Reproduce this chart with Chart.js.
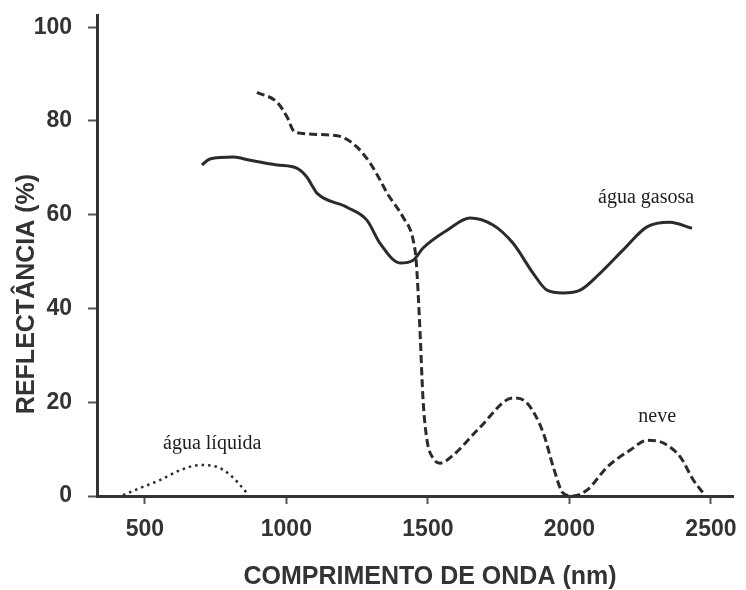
<!DOCTYPE html>
<html>
<head>
<meta charset="utf-8">
<title>Reflectância</title>
<script src="https://cdn.jsdelivr.net/npm/chart.js@4.4.1/dist/chart.umd.min.js"></script>
<style>
  html, body { margin: 0; padding: 0; background: #fff; }
  #wrap { width: 746px; height: 590px; }
</style>
</head>
<body>
<div id="wrap"><canvas id="reflectance-chart" width="746" height="590"></canvas></div>
<script>
// values: wavelength (nm) and reflectance (%)
const liquidNm  = [423, 483, 554, 625, 695, 755, 801, 837, 861];
const liquidPct = [0.2, 1.7, 3.4, 5.5, 6.6, 6.2, 4.5, 2.3, 0.6];

const gasNm  = [702, 730, 812, 872, 967, 1038, 1073, 1094, 1108, 1214, 1285, 1331, 1402, 1448, 1483,
                1568, 1649, 1730, 1801, 1872, 1921, 1978, 2038, 2108, 2190, 2274, 2355, 2433];
const gasPct = [70.6, 71.9, 72.3, 71.6, 70.6, 69.9, 68.0, 65.9, 64.6, 61.6, 58.8, 53.9, 49.7, 50.3, 52.9,
                56.7, 59.3, 57.8, 53.9, 47.5, 43.9, 43.3, 43.9, 47.5, 52.5, 57.4, 58.4, 57.1];

const snowNm  = [896, 967, 1003, 1024, 1048, 1154, 1200, 1250, 1296, 1331, 1356, 1412, 1448, 1459, 1472,
                 1483, 1497, 1518, 1543, 1589, 1685, 1801, 1851, 1908, 1943, 1978, 2014, 2063, 2134,
                 2215, 2275, 2332, 2392, 2438, 2473];
const snowPct = [86.1, 84.0, 80.8, 78.0, 77.4, 77.0, 76.5, 74.4, 71.0, 67.4, 64.6, 59.5, 54.6, 49.9, 35.4,
                 20.5, 11.9, 8.1, 7.0, 8.7, 14.7, 20.9, 19.8, 13.4, 6.2, 0.6, 0.0, 1.3, 6.2,
                 9.8, 11.9, 11.3, 8.3, 3.4, 0.6];

const xTicks = [500, 1000, 1500, 2000, 2500];
const yTicks = [0, 20, 40, 60, 80, 100];

const curveLabels = ["água líquida", "água gasosa", "neve"];
const labelNm  = [738, 2271, 2310];
const labelPct = [10.0, 62.5, 15.8];

const xTitle = "COMPRIMENTO DE ONDA (nm)";
const yTitle = "REFLECTÂNCIA (%)";

function toPoints(xs, ys) {
    return xs.map((x, i) => ({ x: x, y: ys[i] }));
}

const ink = "#2b2b2b";

// curve names and axis titles drawn on top of the chart
const textPlugin = {
    id: "textPlugin",
    afterDraw(chart) {
        const ctx = chart.ctx;
        const xs = chart.scales.x;
        const ys = chart.scales.y;
        const area = chart.chartArea;
        ctx.save();
        ctx.fillStyle = "#1e1e1e";
        ctx.font = "20px 'Liberation Serif', 'Times New Roman', serif";
        ctx.textAlign = "center";
        ctx.textBaseline = "alphabetic";
        curveLabels.forEach((t, i) => {
            ctx.fillText(t, xs.getPixelForValue(labelNm[i]), ys.getPixelForValue(labelPct[i]));
        });

        ctx.fillStyle = "#333";
        ctx.font = "bold 25px 'Liberation Sans', Arial, sans-serif";
        ctx.textBaseline = "middle";
        ctx.fillText(xTitle, area.left + 333, area.bottom + 81);

        ctx.translate(27, area.top + 279);
        ctx.rotate(-Math.PI / 2);
        ctx.fillText(yTitle, 0, 0);
        ctx.restore();
    }
};

const ctx = document.getElementById("reflectance-chart").getContext("2d");

new Chart(ctx, {
    type: "line",
    data: {
        datasets: [
            {
                label: "água líquida",
                data: toPoints(liquidNm, liquidPct),
                borderColor: ink,
                borderWidth: 2.5,
                borderDash: [2.5, 4],
                pointRadius: 0,
                cubicInterpolationMode: "monotone"
            },
            {
                label: "água gasosa",
                data: toPoints(gasNm, gasPct),
                borderColor: ink,
                borderWidth: 3,
                pointRadius: 0,
                cubicInterpolationMode: "monotone"
            },
            {
                label: "neve",
                data: toPoints(snowNm, snowPct),
                borderColor: ink,
                borderWidth: 3,
                borderDash: [8, 4],
                pointRadius: 0,
                cubicInterpolationMode: "monotone"
            }
        ]
    },
    options: {
        responsive: false,
        animation: false,
        devicePixelRatio: 1,
        layout: { padding: { top: 15, right: 13, left: 0, bottom: 0 } },
        plugins: {
            legend: { display: false },
            tooltip: { enabled: false }
        },
        scales: {
            x: {
                type: "linear",
                min: 331,
                max: 2578,
                afterFit(scale) {
                    scale.height = 94;
                    scale.paddingLeft = 0;
                    scale.paddingRight = 0;
                },
                afterBuildTicks(scale) { scale.ticks = xTicks.map(v => ({ value: v })); },
                border: { display: true, color: "#333", width: 3 },
                grid: { display: true, drawOnChartArea: false, drawTicks: true, tickLength: 8, tickWidth: 2, tickColor: "#555" },
                ticks: {
                    color: "#333",
                    padding: 12,
                    maxRotation: 0,
                    callback: v => String(v),
                    font: { family: "'Liberation Sans', Arial, sans-serif", size: 23, weight: "bold" }
                }
            },
            y: {
                type: "linear",
                min: 0,
                max: 102.6,
                afterFit(scale) {
                    scale.width = 97;
                    scale.paddingTop = 0;
                    scale.paddingBottom = 0;
                },
                afterBuildTicks(scale) { scale.ticks = yTicks.map(v => ({ value: v })); },
                border: { display: true, color: "#333", width: 3 },
                grid: { display: true, drawOnChartArea: false, drawTicks: true, tickLength: 9, tickWidth: 2, tickColor: "#555" },
                ticks: {
                    color: "#333",
                    padding: 16,
                    callback: v => String(v),
                    font: { family: "'Liberation Sans', Arial, sans-serif", size: 23, weight: "bold" }
                }
            }
        }
    },
    plugins: [textPlugin]
});
</script>
</body>
</html>
